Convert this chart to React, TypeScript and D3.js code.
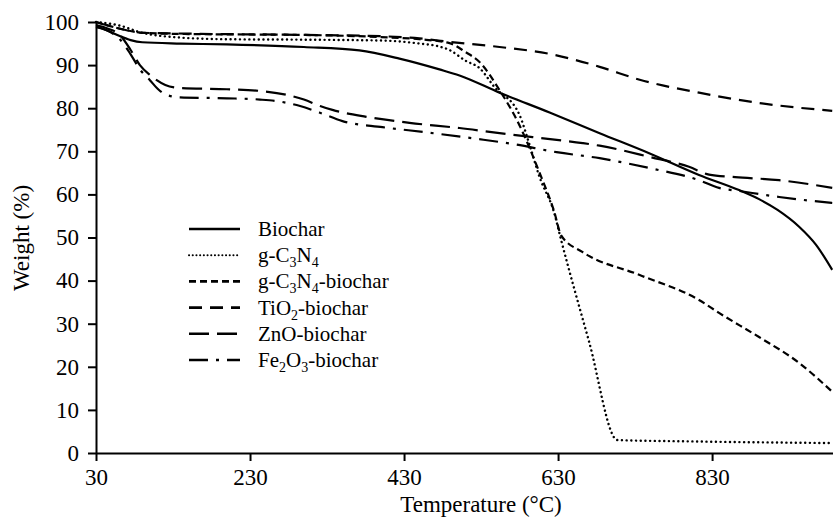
import { useEffect, useRef } from 'react';
import * as d3 from 'd3';

// TGA curves (temperature °C, weight %)
const biochar: [number, number][] = [
  [30, 99], [45, 98], [60, 96.8], [75, 95.8], [90, 95.3], [140, 95], [200, 94.8],
  [300, 94.2], [372, 93.4], [424, 91.5], [476, 89.0], [502, 87.6], [554, 83.6],
  [619, 79.0], [684, 74.2], [749, 69.5], [813, 64.5], [865, 61.0], [891, 58.9],
  [915, 56.4], [943, 52.5], [965, 48.3], [986, 42.5],
];
const gC3N4: [number, number][] = [
  [30, 100], [60, 99.2], [90, 97.5], [130, 96.5], [200, 96.0], [300, 95.9],
  [400, 95.7], [450, 95.0], [476, 94.3], [489, 93.5], [510, 91], [528, 89.3],
  [547, 85], [580, 78.4], [593, 71.5], [606, 64], [625, 55.7], [634, 49.4],
  [670, 26], [707, 3.0], [800, 2.7], [986, 2.3],
];
const gC3N4Biochar: [number, number][] = [
  [30, 100], [60, 98.5], [90, 97.5], [150, 97.2], [300, 97], [400, 96.5],
  [450, 96.0], [489, 95.1], [510, 93], [528, 90.7], [554, 84.2], [580, 76],
  [606, 65], [625, 56], [634, 50.5], [662, 46.6], [736, 41.3], [813, 35.5],
  [839, 32.5], [891, 26.9], [943, 20.9], [986, 14.2],
];
const tio2Biochar: [number, number][] = [
  [30, 100], [60, 98.5], [90, 97.5], [150, 97.3], [300, 97], [400, 96.7],
  [450, 96.2], [489, 95.4], [554, 94.2], [619, 92.6], [684, 89.6], [736, 86.6],
  [813, 83.6], [891, 81.2], [986, 79.4],
];
const znoBiochar: [number, number][] = [
  [30, 99.3], [45, 98.5], [61, 97], [75, 93.5], [87, 90], [100, 87.7], [120, 85.4],
  [139, 84.7], [200, 84.4], [243, 84.0], [280, 83], [300, 82], [321, 80.5],
  [337, 79.6], [381, 78], [437, 76.6], [502, 75.4], [554, 74.2], [597, 73.3],
  [662, 71.9], [684, 71.3], [749, 68.7], [800, 66.4], [826, 64.6], [860, 64],
  [917, 63.3], [986, 61.5],
];
const fe2o3Biochar: [number, number][] = [
  [30, 98.8], [45, 98], [61, 96], [75, 92.5], [87, 89], [100, 86.5], [110, 84.5],
  [120, 83.2], [139, 82.5], [200, 82.3], [243, 82.0], [270, 81.5], [295, 80.5],
  [320, 79], [350, 77], [402, 75.6], [459, 74.4], [524, 72.9], [571, 71.7],
  [628, 69.8], [684, 68.4], [749, 66.1], [813, 63.3], [839, 61.5], [865, 60.8],
  [917, 59.4], [986, 58],
];

const seriesNames = [
  ['Biochar'],
  ['g-C', '3', 'N', '4'],
  ['g-C', '3', 'N', '4', '-biochar'],
  ['TiO', '2', '-biochar'],
  ['ZnO-biochar'],
  ['Fe', '2', 'O', '3', '-biochar'],
];
const seriesData = [biochar, gC3N4, gC3N4Biochar, tio2Biochar, znoBiochar, fe2o3Biochar];
const dashes = ['none', '0.1,4.6', '7,4', '13,8', '20,8', '19,8,3,8'];
const caps = ['butt', 'round', 'butt', 'butt', 'butt', 'butt'];

const xTicks = [30, 230, 430, 630, 830];
const yTicks = [0, 10, 20, 30, 40, 50, 60, 70, 80, 90, 100];

const FONT = "'Liberation Serif', 'Times New Roman', Times, 'DejaVu Serif', serif";

export default function App() {
  const ref = useRef<SVGSVGElement>(null);

  useEffect(() => {
    const svg = d3.select(ref.current);
    svg.selectAll('*').remove();

    const x = d3.scaleLinear().domain([30, 987]).range([96, 833]);
    const y = d3.scaleLinear().domain([0, 100]).range([453, 22]);

    // curves
    const line = d3.line<[number, number]>()
      .x(d => x(d[0]))
      .y(d => y(d[1]))
      .curve(d3.curveMonotoneX);

    seriesData.forEach((s, i) => {
      svg.append('path')
        .attr('d', line(s))
        .attr('fill', 'none')
        .attr('stroke', '#000')
        .attr('stroke-width', i === 1 ? 2.4 : 2.2)
        .attr('stroke-linecap', caps[i])
        .attr('stroke-dasharray', dashes[i]);
    });

    // axes
    const xAxis = svg.append('g')
      .attr('transform', 'translate(0,453)')
      .call(d3.axisBottom(x).tickValues(xTicks).tickSize(8).tickPadding(8).tickSizeOuter(0));
    xAxis.attr('font-family', FONT).attr('font-size', 23);
    xAxis.select('.domain').attr('stroke-width', 2);
    xAxis.selectAll('.tick line').attr('stroke-width', 2);
    xAxis.selectAll('text').attr('fill', '#000');

    const yAxis = svg.append('g')
      .attr('transform', 'translate(96,0)')
      .call(d3.axisLeft(y).tickValues(yTicks).tickSize(8).tickPadding(9).tickSizeOuter(0));
    yAxis.attr('font-family', FONT).attr('font-size', 23);
    yAxis.select('.domain').attr('stroke-width', 2);
    yAxis.selectAll('.tick line').attr('stroke-width', 2);
    yAxis.selectAll('text').attr('fill', '#000');

    svg.append('text')
      .attr('x', 481).attr('y', 511.5)
      .attr('text-anchor', 'middle')
      .attr('font-family', FONT).attr('font-size', 23)
      .text('Temperature (°C)');

    svg.append('text')
      .attr('transform', 'translate(29,238) rotate(-90)')
      .attr('text-anchor', 'middle')
      .attr('font-family', FONT).attr('font-size', 23)
      .text('Weight (%)');

    // legend
    const lg = svg.append('g').attr('font-family', FONT);
    seriesNames.forEach((parts, i) => {
      const ly = 229 + i * 26.2;
      lg.append('line')
        .attr('x1', 189).attr('x2', 240)
        .attr('y1', ly).attr('y2', ly)
        .attr('stroke', '#000')
        .attr('stroke-width', i === 1 ? 2 : 2.6)
        .attr('stroke-linecap', caps[i])
        .attr('stroke-dasharray', dashes[i] === '0.1,4.6' ? '0.1,3.6' : dashes[i]);
      const t = lg.append('text')
        .attr('x', 258).attr('y', ly + 7)
        .attr('font-size', 21);
      parts.forEach((p, j) => {
        const isSub = /^\d$/.test(p);
        const prevSub = j > 0 && /^\d$/.test(parts[j - 1]);
        t.append('tspan')
          .attr('dy', isSub ? 5 : prevSub ? -5 : 0)
          .attr('font-size', isSub ? 14 : 21)
          .text(p);
      });
    });
  }, []);

  return (
    <svg ref={ref} width={833} height={517}
      style={{ position: 'absolute', left: 0, top: 0, background: '#fff' }} />
  );
}
